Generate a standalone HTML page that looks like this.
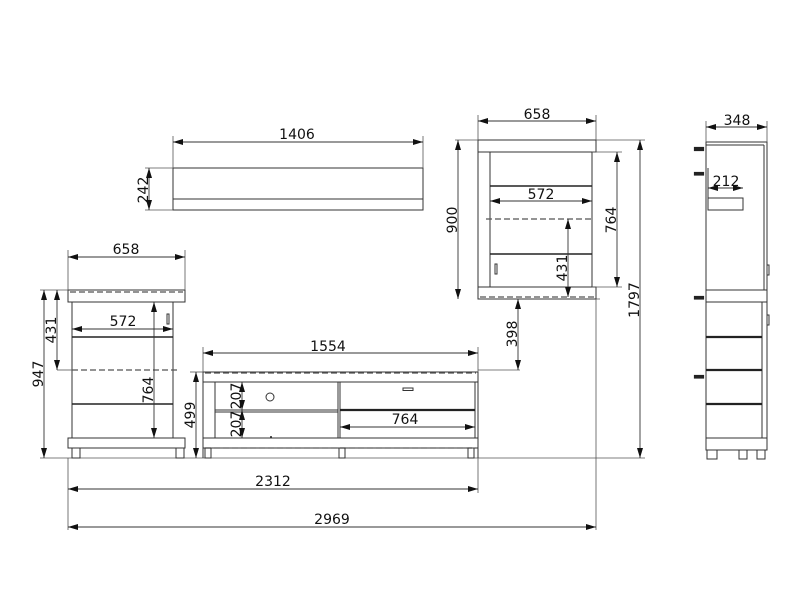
<!DOCTYPE html>
<html><head><meta charset="utf-8"><style>
html,body{margin:0;padding:0;background:#fff;}
svg{display:block}
text{font-family:"DejaVu Sans","Liberation Sans",sans-serif;font-size:14px;fill:#111;text-anchor:middle}
.o{fill:none;stroke:#333;stroke-width:1}
.t{fill:none;stroke:#222;stroke-width:1.4}
.d{fill:none;stroke:#555;stroke-width:0.8}
.a{fill:none;stroke:#333;stroke-width:0.9;marker-start:url(#ar);marker-end:url(#ar)}
.ds{fill:none;stroke:#555;stroke-width:1.2;stroke-dasharray:6,3}
.k{fill:none;stroke:#222;stroke-width:2.2}
</style></head><body>
<svg width="800" height="600" viewBox="0 0 800 600" xmlns="http://www.w3.org/2000/svg">
<defs>
<marker id="ar" viewBox="0 0 10 6" refX="10" refY="3" markerWidth="10" markerHeight="6" markerUnits="userSpaceOnUse" orient="auto-start-reverse">
<path d="M0,0 L10,3 L0,6 z" fill="#111"/></marker>
</defs>

<line class="d" x1="40" y1="458" x2="645" y2="458"/>

<!-- Wall shelf -->
<rect class="o" x="173" y="168" width="250" height="42"/>
<line class="o" x1="173" y1="199" x2="423" y2="199"/>
<line class="d" x1="173" y1="136" x2="173" y2="168"/>
<line class="d" x1="423" y1="136" x2="423" y2="168"/>
<line class="a" x1="173" y1="142" x2="423" y2="142"/>
<text x="297" y="139">1406</text>
<line class="d" x1="145" y1="168" x2="173" y2="168"/>
<line class="d" x1="145" y1="210" x2="173" y2="210"/>
<line class="a" x1="149" y1="168" x2="149" y2="210"/>
<text transform="translate(148,190) rotate(-90)">242</text>

<!-- Left cabinet -->
<rect class="o" x="68" y="290" width="117" height="12"/>
<line class="ds" x1="70" y1="292" x2="183" y2="292"/>
<rect class="o" x="72" y="302" width="101" height="136"/>
<line class="t" x1="72" y1="337" x2="173" y2="337"/>
<line class="ds" x1="72" y1="370" x2="180" y2="370"/>
<line class="t" x1="72" y1="404" x2="173" y2="404"/>
<rect class="o" x="167" y="314" width="2" height="10"/>
<rect class="o" x="68" y="438" width="117" height="10"/>
<rect class="o" x="72" y="448" width="8" height="10"/>
<rect class="o" x="176" y="448" width="8" height="10"/>
<line class="d" x1="68" y1="250" x2="68" y2="290"/>
<line class="d" x1="185" y1="250" x2="185" y2="290"/>
<line class="a" x1="68" y1="257" x2="185" y2="257"/>
<text x="126" y="254">658</text>
<line class="d" x1="40" y1="290" x2="68" y2="290"/>
<line class="d" x1="57" y1="370" x2="72" y2="370"/>
<line class="a" x1="57" y1="290" x2="57" y2="370"/>
<text transform="translate(56,330) rotate(-90)">431</text>
<line class="a" x1="44" y1="290" x2="44" y2="458"/>
<text transform="translate(43,374) rotate(-90)">947</text>
<line class="a" x1="72" y1="329" x2="173" y2="329"/>
<text x="123" y="326">572</text>
<line class="a" x1="154" y1="302" x2="154" y2="438"/>
<text transform="translate(153,390) rotate(-90)">764</text>

<!-- TV unit -->
<rect class="o" x="203" y="372" width="275" height="10"/>
<line class="ds" x1="205" y1="373" x2="476" y2="373"/>
<line class="o" x1="203" y1="382" x2="203" y2="458"/>
<line class="o" x1="478" y1="382" x2="478" y2="458"/>
<line class="o" x1="215" y1="382" x2="215" y2="438"/>
<rect class="o" x="215" y="382" width="123" height="56"/>
<line class="o" x1="215" y1="410" x2="338" y2="410"/>
<line class="o" x1="215" y1="412" x2="338" y2="412"/>
<rect class="o" x="340" y="382" width="135" height="56"/>
<line class="k" x1="340" y1="410" x2="475" y2="410"/>
<circle class="o" cx="270" cy="397" r="4"/>
<rect class="o" x="403" y="388" width="10" height="2.5"/>
<circle cx="271" cy="437" r="1" fill="#222"/>
<rect class="o" x="203" y="438" width="275" height="10"/>
<line class="ds" x1="205" y1="448" x2="476" y2="448"/>
<rect class="o" x="205" y="448" width="6" height="10"/>
<rect class="o" x="339" y="448" width="6" height="10"/>
<rect class="o" x="468" y="448" width="6" height="10"/>
<line class="d" x1="203" y1="347" x2="203" y2="372"/>
<line class="d" x1="478" y1="347" x2="478" y2="372"/>
<line class="a" x1="203" y1="353" x2="478" y2="353"/>
<text x="328" y="351">1554</text>
<line class="d" x1="190" y1="372" x2="203" y2="372"/>
<line class="a" x1="196" y1="372" x2="196" y2="458"/>
<text transform="translate(195,415) rotate(-90)">499</text>
<line class="a" x1="242" y1="382" x2="242" y2="410"/>
<text transform="translate(241,396) rotate(-90)">207</text>
<line class="a" x1="242" y1="410" x2="242" y2="438"/>
<text transform="translate(241,424) rotate(-90)">207</text>
<line class="a" x1="340" y1="427" x2="475" y2="427"/>
<text x="405" y="424">764</text>
<line class="d" x1="478" y1="370" x2="520" y2="370"/>
<line class="d" x1="478" y1="299" x2="600" y2="299"/>
<line class="a" x1="518" y1="299" x2="518" y2="370"/>
<text transform="translate(517,334) rotate(-90)">398</text>

<!-- Upper cabinet -->
<rect class="o" x="478" y="140" width="118" height="12"/>
<rect class="o" x="478" y="152" width="12" height="135"/>
<rect class="o" x="490" y="152" width="102" height="135"/>
<line class="t" x1="490" y1="186" x2="592" y2="186"/>
<line class="ds" x1="486" y1="219" x2="592" y2="219"/>
<line class="t" x1="490" y1="254" x2="592" y2="254"/>
<rect class="o" x="495" y="264" width="2" height="10"/>
<rect class="o" x="478" y="287" width="118" height="12"/>
<line class="ds" x1="480" y1="297" x2="594" y2="297"/>
<line class="d" x1="478" y1="115" x2="478" y2="140"/>
<line class="d" x1="596" y1="115" x2="596" y2="140"/>
<line class="a" x1="478" y1="121" x2="596" y2="121"/>
<text x="537" y="119">658</text>
<line class="d" x1="455" y1="140" x2="478" y2="140"/>
<line class="a" x1="458" y1="140" x2="458" y2="299"/>
<text transform="translate(457,220) rotate(-90)">900</text>
<line class="a" x1="490" y1="201" x2="592" y2="201"/>
<text x="541" y="199">572</text>
<line class="d" x1="592" y1="152" x2="622" y2="152"/>
<line class="d" x1="592" y1="287" x2="622" y2="287"/>
<line class="a" x1="617" y1="152" x2="617" y2="287"/>
<text transform="translate(616,220) rotate(-90)">764</text>
<line class="a" x1="568" y1="219" x2="568" y2="297"/>
<text transform="translate(567,268) rotate(-90)">431</text>
<line class="d" x1="596" y1="140" x2="645" y2="140"/>
<line class="a" x1="640" y1="140" x2="640" y2="458"/>
<text transform="translate(639,300) rotate(-90)">1797</text>

<!-- bottom dims -->
<line class="d" x1="68" y1="458" x2="68" y2="530"/>
<line class="d" x1="478" y1="458" x2="478" y2="493"/>
<line class="d" x1="596" y1="299" x2="596" y2="530"/>
<line class="a" x1="68" y1="489" x2="478" y2="489"/>
<text x="273" y="486">2312</text>
<line class="a" x1="68" y1="527" x2="596" y2="527"/>
<text x="332" y="524">2969</text>

<!-- Side view -->
<rect class="o" x="706" y="142" width="61" height="308"/>
<line class="o" x1="706" y1="145" x2="764" y2="145"/>
<line class="o" x1="764" y1="145" x2="764" y2="290"/>
<line class="o" x1="706" y1="290" x2="767" y2="290"/>
<line class="o" x1="706" y1="302" x2="767" y2="302"/>
<line class="o" x1="762" y1="302" x2="762" y2="438"/>
<line class="k" x1="706" y1="337" x2="762" y2="337"/>
<line class="k" x1="706" y1="370" x2="762" y2="370"/>
<line class="k" x1="706" y1="404" x2="762" y2="404"/>
<line class="o" x1="706" y1="438" x2="767" y2="438"/>
<rect class="o" x="707" y="450" width="10" height="9"/>
<rect class="o" x="739" y="450" width="8" height="9"/>
<rect class="o" x="757" y="450" width="8" height="9"/>
<rect class="o" x="767" y="265" width="2" height="10"/>
<rect class="o" x="767" y="315" width="2" height="10"/>
<line class="o" x1="708" y1="168" x2="708" y2="200"/>
<rect class="o" x="708" y="198" width="35" height="12"/>
<rect class="k" x="695" y="148" width="8" height="2"/>
<rect class="k" x="695" y="173" width="8" height="1.5"/>
<rect class="k" x="695" y="297" width="8" height="1.5"/>
<rect class="k" x="695" y="376" width="8" height="1.5"/>
<line class="d" x1="706" y1="121" x2="706" y2="142"/>
<line class="d" x1="767" y1="121" x2="767" y2="142"/>
<line class="a" x1="706" y1="127" x2="767" y2="127"/>
<text x="737" y="125">348</text>
<line class="a" x1="708" y1="188" x2="743" y2="188"/>
<text x="726" y="186">212</text>
</svg>
</body></html>
